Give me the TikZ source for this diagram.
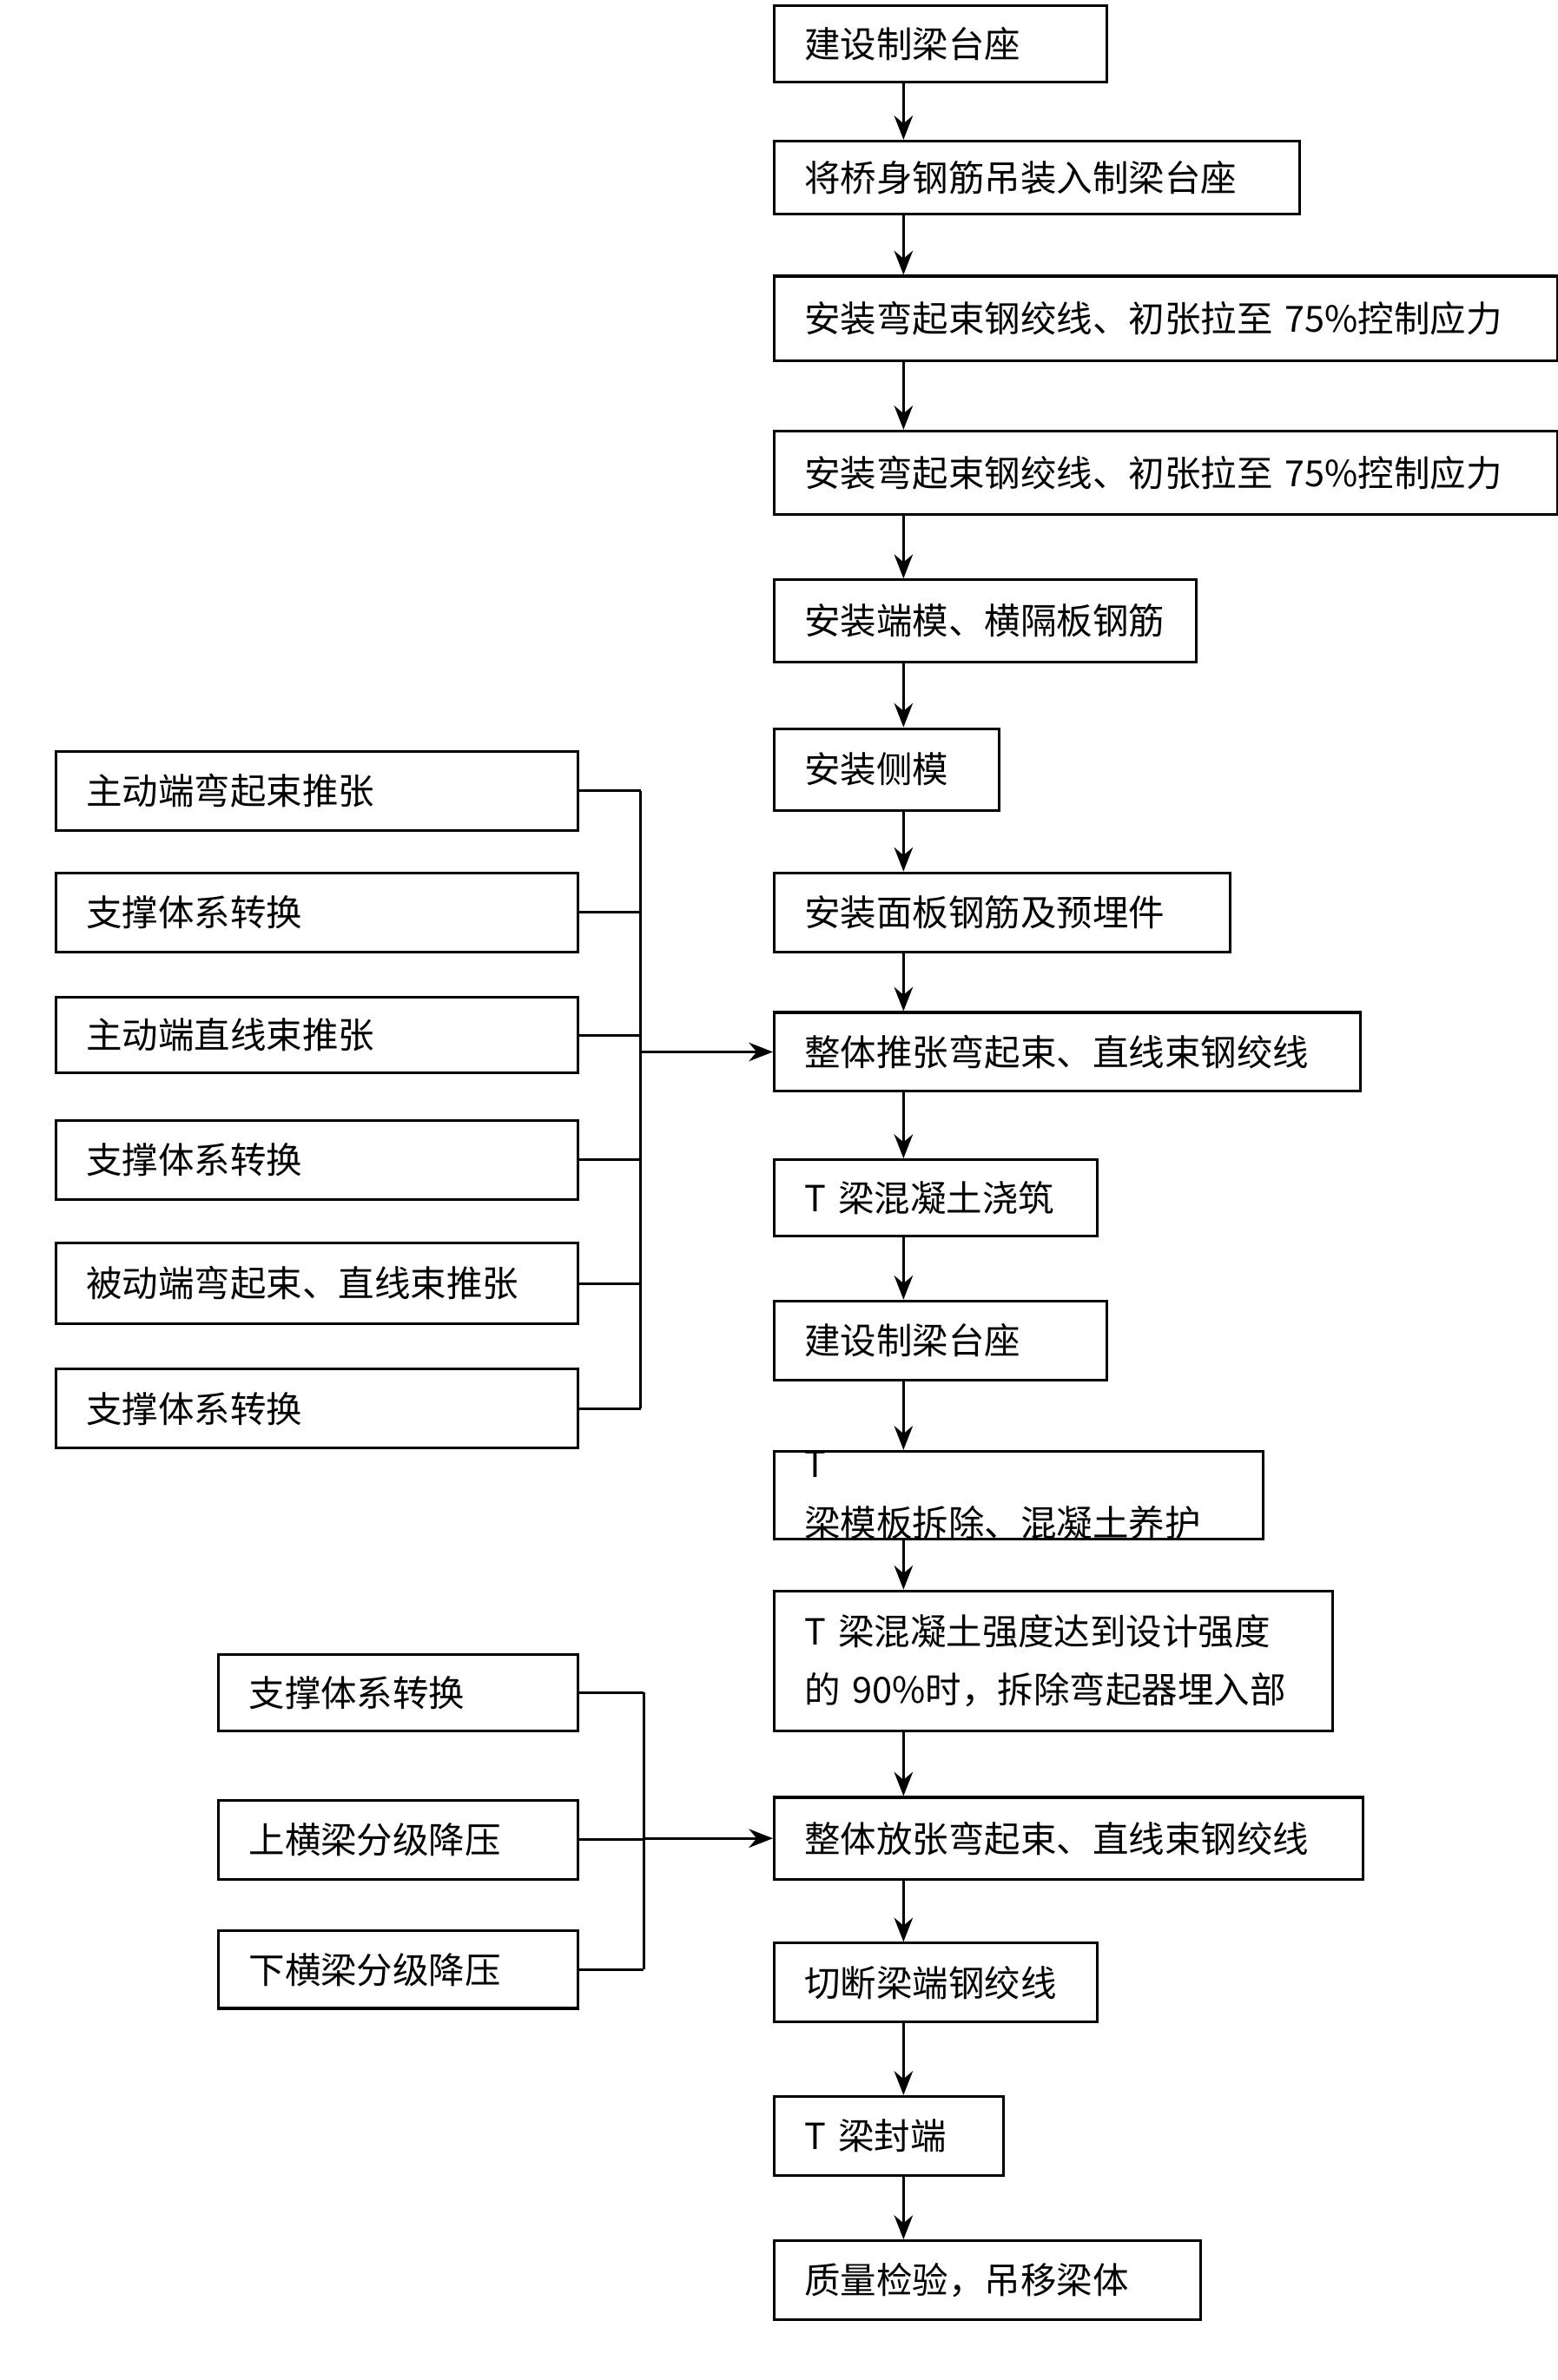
\documentclass[tikz,border=0pt]{standalone}
\usepackage{fontspec}
\setmainfont{Noto Sans CJK SC}
\usetikzlibrary{arrows.meta}
\tikzset{
  box/.style={draw,line width=1pt,anchor=north west,inner sep=0pt,align=left,font=\fontsize{13.5}{22}\selectfont},
  arr/.style={-{Stealth[length=9pt,width=7pt]},line width=1pt},
  ln/.style={line width=1pt}
}
% \bx{name}{left}{top}{width}{height}{text}
\newcommand{\bx}[6]{\node[box,minimum width=#4*0.02cm,minimum height=#5*0.02cm,text width=(#4-40)*0.02cm] (#1) at (#2*0.02,-#3*0.02) {#6};}
\begin{document}
\begin{tikzpicture}
\useasboundingbox (0,0) rectangle (20.52,-31.36);
\coordinate (col) at (595*0.02,0);
\coordinate (brA) at (422*0.02,0);
\coordinate (brB) at (424*0.02,0);
% main column
\bx{s1}{509}{3}{219}{50}{建设制梁台座}
\bx{s2}{509}{92}{346}{48}{将桥身钢筋吊装入制梁台座}
\bx{s3}{509}{181}{516}{56}{安装弯起束钢绞线、初张拉至 75\%控制应力}
\bx{s4}{509}{283}{516}{55}{安装弯起束钢绞线、初张拉至 75\%控制应力}
\bx{s5}{509}{381}{278}{54}{安装端模、横隔板钢筋}
\bx{s6}{509}{479}{148}{54}{安装侧模}
\bx{s7}{509}{574}{300}{52}{安装面板钢筋及预埋件}
\bx{s8}{509}{666}{386}{52}{整体推张弯起束、直线束钢绞线}
\bx{s9}{509}{763}{213}{50}{T 梁混凝土浇筑}
\bx{s10}{509}{856}{219}{52}{建设制梁台座}
\bx{s11}{509}{955}{322}{53}{T 梁模板拆除、混凝土养护}
\bx{s12}{509}{1047}{368}{92}{T 梁混凝土强度达到设计强度\\的 90\%时，拆除弯起器埋入部}
\bx{s13}{509}{1183}{388}{54}{整体放张弯起束、直线束钢绞线}
\bx{s14}{509}{1279}{213}{52}{切断梁端钢绞线}
\bx{s15}{509}{1380}{151}{52}{T 梁封端}
\bx{s16}{509}{1475}{281}{52}{质量检验，吊移梁体}
\foreach \a/\b in {s1/s2,s2/s3,s3/s4,s4/s5,s5/s6,s6/s7,s7/s8,s8/s9,s9/s10,s10/s11,s11/s12,s12/s13,s13/s14,s14/s15,s15/s16}
  \draw[arr] (\a.south west -| col) -- (\b.north west -| col);
% left group, tensioning
\bx{a1}{36}{494}{344}{52}{主动端弯起束推张}
\bx{a2}{36}{574}{344}{52}{支撑体系转换}
\bx{a3}{36}{656}{344}{50}{主动端直线束推张}
\bx{a4}{36}{737}{344}{52}{支撑体系转换}
\bx{a5}{36}{818}{344}{53}{被动端弯起束、直线束推张}
\bx{a6}{36}{901}{344}{52}{支撑体系转换}
\foreach \a in {a1,a2,a3,a4,a5,a6}
  \draw[ln] (\a.east) -- (\a.east -| brA);
\draw[ln] (a1.east -| brA) -- (a6.east -| brA);
\draw[arr] (s8.west -| brA) -- (s8.west);
% left group, release
\bx{b1}{143}{1089}{237}{50}{支撑体系转换}
\bx{b2}{143}{1185}{237}{52}{上横梁分级降压}
\bx{b3}{143}{1271}{237}{51}{下横梁分级降压}
\foreach \a in {b1,b2,b3}
  \draw[ln] (\a.east) -- (\a.east -| brB);
\draw[ln] (b1.east -| brB) -- (b3.east -| brB);
\draw[arr] (s13.west -| brB) -- (s13.west);
\end{tikzpicture}
\end{document}
